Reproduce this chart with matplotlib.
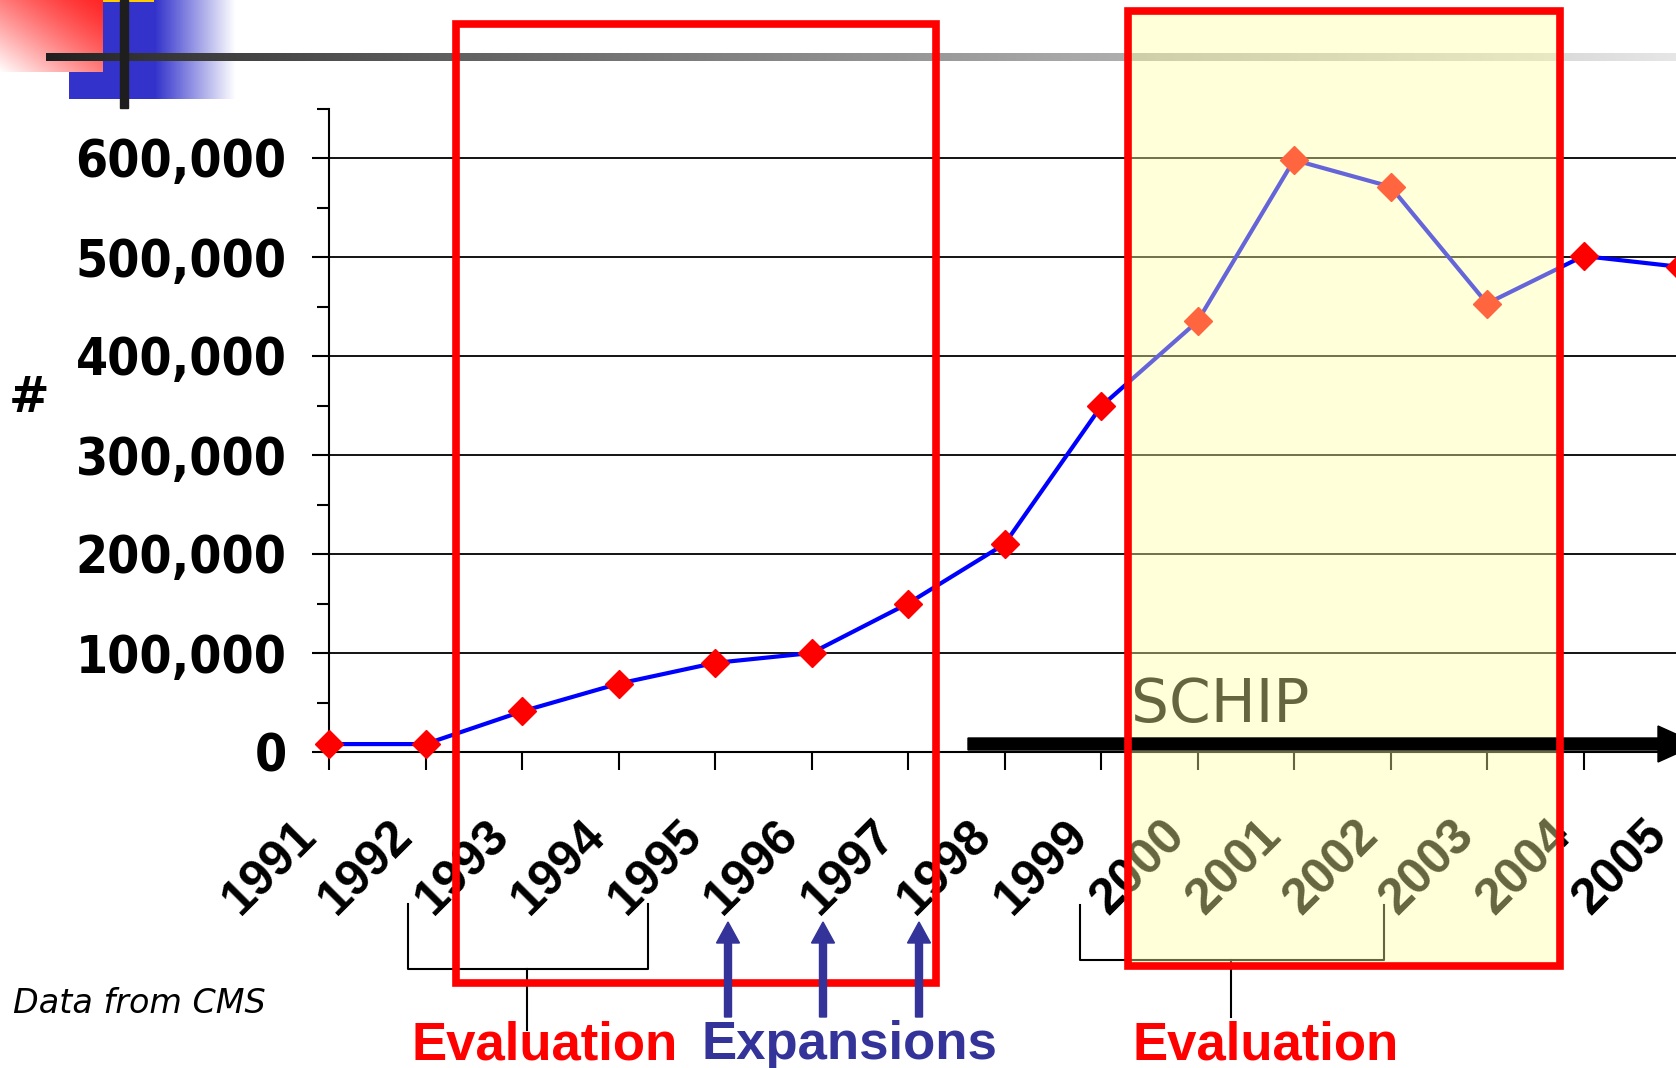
import numpy as np
import matplotlib
matplotlib.use("Agg")
import matplotlib.pyplot as plt
import matplotlib.patches as mpatches
from matplotlib.lines import Line2D
from matplotlib.transforms import Affine2D, ScaledTranslation, blended_transform_factory

# values (CMS data)
years = list(range(1991, 2006))
enrollees = [8000, 8000, 41000, 69000, 90000, 100000, 150000, 210000,
             349000, 435000, 598000, 571000, 453000, 501000, 490000]
y_ticks = [0, 100000, 200000, 300000, 400000, 500000, 600000]
y_minor = [50000, 150000, 250000, 350000, 450000, 550000, 650000]
y_labels = [f"{v:,}" for v in y_ticks]
year_labels = [str(y) for y in years]

W, H = 1676, 1068
fig = plt.figure(figsize=(W / 100, H / 100), dpi=100)
fig.patch.set_facecolor("white")
# pixel coords measured from the top-left corner
T = Affine2D().scale(1 / W, -1 / H).translate(0, 1) + fig.transFigure

# --- chart ---
ax = fig.add_axes([329 / W, 316 / H, 15 * 96.5 / W, 643.5 / H])
ax.set_xlim(1991, 2006)
ax.set_ylim(0, 650000)
ax.plot(years, enrollees, color="blue", lw=3, marker="D", ms=14,
        mfc="red", mec="red", clip_on=False, zorder=3)

ax.spines[["top", "right"]].set_visible(False)
for s in ["left", "bottom"]:
    ax.spines[s].set_linewidth(1.5)
ax.yaxis.grid(True, color="black", lw=1.3)
ax.set_axisbelow(True)

ax.set_yticks(y_ticks, y_labels)
ax.set_yticks(y_minor, minor=True)
ax.tick_params(axis="y", which="major", length=12, width=1.5, pad=18.5)
ax.tick_params(axis="y", which="minor", length=8.6, width=1.5)
for lab in ax.get_yticklabels():
    lab.set_fontfamily("DejaVu Sans")
    lab.set_fontweight("bold")
    lab.set_fontstretch("condensed")
    lab.set_fontsize(37)

ax.set_xticks(years)
ax.tick_params(axis="x", length=13, width=1.5, labelbottom=False)
lab_tr = blended_transform_factory(ax.transData, ax.transAxes) + \
    ScaledTranslation(-0.2, -0.76, fig.dpi_scale_trans)
for yr, lab in zip(years, year_labels):
    ax.text(yr, 0, lab, transform=lab_tr, rotation=45, rotation_mode="anchor",
            ha="right", va="center", fontsize=36, fontweight="bold",
            family="Liberation Sans")

fig.text(29, 398, "#", transform=T, ha="center", va="center", fontsize=35,
         fontweight="bold", family="DejaVu Sans")
fig.text(13, 1013, "Data from CMS", transform=T, ha="left", va="baseline",
         fontsize=24, style="italic", family="DejaVu Sans")

# --- slide decoration top left ---
deco = np.zeros((110, 240, 4))
xx = np.arange(240)
fade = np.clip(1 - (xx - 155) / 80.0, 0, 1)
deco[0:99, 69:235, :3] = [0.2, 0.2, 0.8]
deco[0:99, 69:235, 3] = fade[69:235]
yy, xr = np.mgrid[0:72, 0:103]
t = ((103 - xr) / 103.0 + yy / 72.0) / 2
deco[0:72, 0:103, 0] = 1
deco[0:72, 0:103, 1] = 0.15 + 0.85 * t ** 1.3
deco[0:72, 0:103, 2] = 0.15 + 0.85 * t ** 1.3
deco[0:72, 0:103, 3] = 1
deco[0:2, 103:154] = [1, 0.8, 0, 1]
fig.figimage(deco, xo=0, yo=H - 110, origin="upper", zorder=0)

g = np.linspace(0, 1, W - 46)
g = (30 + 200 * g ** 0.8) / 255
bar = np.repeat(np.stack([g, g, g, np.ones_like(g)], axis=-1)[None], 8, axis=0)
fig.figimage(bar, xo=46, yo=H - 61, origin="upper", zorder=0)
fig.add_artist(mpatches.Rectangle((120, 0), 8, 108, color="#1e1e1e",
                                  transform=T, zorder=0.2))

# --- annotations ---
def bracket(x0, x1, top, bottom, stem_x, stem_bottom):
    fig.add_artist(Line2D([x0, x0, x1, x1], [top, bottom, bottom, top],
                          color="black", lw=1.5, transform=T, zorder=0.5))
    fig.add_artist(Line2D([stem_x, stem_x], [bottom, stem_bottom],
                          color="black", lw=1.5, transform=T, zorder=0.5))

bracket(408, 648, 904, 969, 527, 1030)
bracket(1080, 1384, 905, 960, 1231, 1017)

fig.text(1131, 722, "SCHIP", transform=T, ha="left", va="baseline",
         fontsize=43, family="DejaVu Sans", color="black", zorder=0.5)

# shaded SCHIP evaluation window
fig.add_artist(mpatches.Rectangle((1128, 11), 432, 955, fc="#FFFFA0",
                                  ec="none", alpha=0.4, transform=T, zorder=1))

fig.add_artist(mpatches.FancyArrow(968, 744, 730, 0, width=12, head_width=36,
                                   head_length=40, length_includes_head=True,
                                   color="black", transform=T, zorder=2))

for (x0, y0, x1, y1) in [(456, 24, 936, 983), (1128, 11, 1560, 966)]:
    fig.add_artist(mpatches.Rectangle((x0, y0), x1 - x0, y1 - y0, fill=False,
                                      ec="red", lw=5.5, transform=T, zorder=3))

for x in [728, 823, 919]:
    fig.add_artist(mpatches.FancyArrow(x, 1017, 0, -95, width=7, head_width=23,
                                       head_length=21, length_includes_head=True,
                                       color="#333399", transform=T, zorder=4))

for x, txt, col in [(545, "Evaluation", "red"), (849, "Expansions", "#333399"),
                    (1266, "Evaluation", "red")]:
    fig.text(x, 1059, txt, transform=T, ha="center", va="baseline", fontsize=38,
             fontweight="bold", family="Liberation Sans", color=col, zorder=5)

fig.savefig("out.png", dpi=100)
